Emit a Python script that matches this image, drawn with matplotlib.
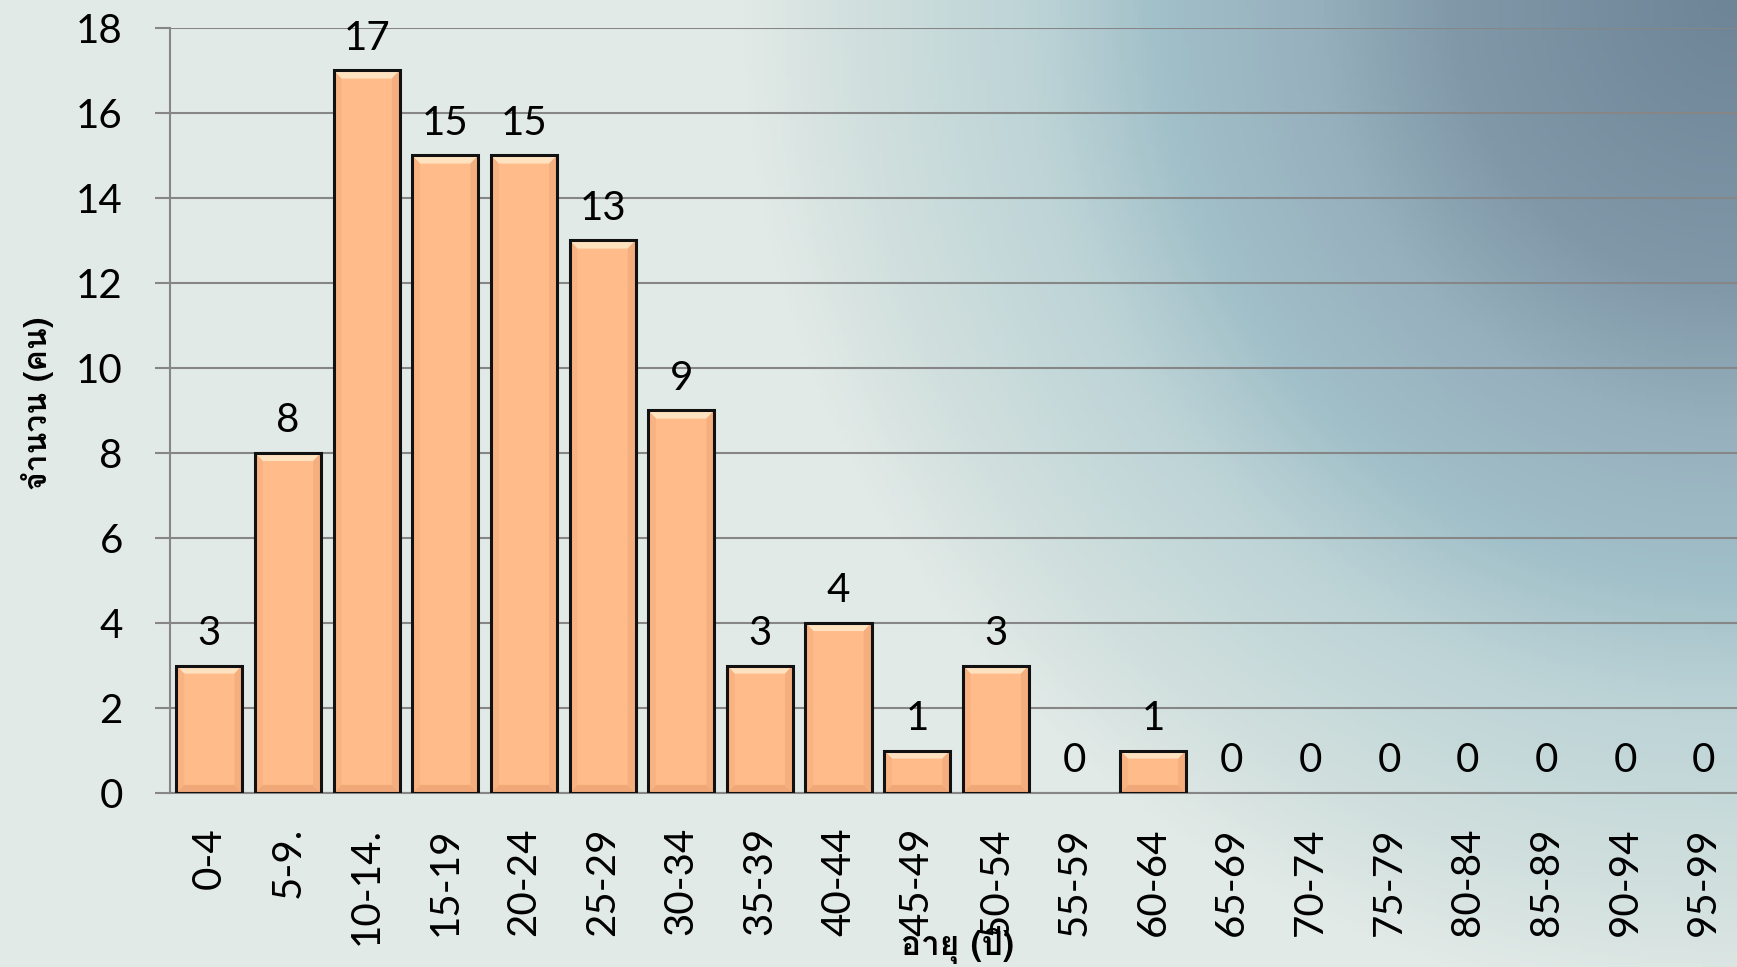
import numpy as np
import matplotlib
matplotlib.use('Agg')
import matplotlib.pyplot as plt
from matplotlib import font_manager
from matplotlib.ft2font import FT2Font
from matplotlib.colors import LinearSegmentedColormap
from matplotlib.patches import Polygon

# ข้อมูลช่วงอายุและจำนวน
age_groups = ['0-4', '5-9.', '10-14.', '15-19', '20-24', '25-29', '30-34', '35-39',
              '40-44', '45-49', '50-54', '55-59', '60-64', '65-69', '70-74', '75-79',
              '80-84', '85-89', '90-94', '95-99']
counts = [3, 8, 17, 15, 15, 13, 9, 3, 4, 1, 3, 0, 1, 0, 0, 0, 0, 0, 0, 0]
y_ticks = [0, 2, 4, 6, 8, 10, 12, 14, 16, 18]
x_title = 'อายุ (ปี)'
y_title = 'จำนวน (คน)'

# หาฟอนต์ที่มีอักษรไทย
thai_font = None
for f in font_manager.fontManager.ttflist:
    try:
        if 0x0E08 in FT2Font(f.fname).get_charmap():
            thai_font = f.name
            break
    except Exception:
        pass
thai_family = [thai_font, 'DejaVu Sans'] if thai_font else ['DejaVu Sans']

plt.rcParams['font.family'] = ['Lato', 'DejaVu Sans']

W, H = 1737, 967
fig = plt.figure(figsize=(W / 100, H / 100), dpi=100)

# พื้นหลังไล่สี
bg = fig.add_axes([0, 0, 1, 1], zorder=-10)
u = np.linspace(0, 1, 400)
v = np.linspace(0, 1, 240)
U, V = np.meshgrid(u, v)
d = np.sqrt(((1 - U) * 2.0) ** 2 + (V * 1.1) ** 2)
t = np.clip(1 - d / 1.15, 0, 1)
cmap = LinearSegmentedColormap.from_list('bg', [
    (0.0, '#e2eae7'), (0.1, '#d3e1df'), (0.3, '#bcd3d6'), (0.42, '#a2c0c9'),
    (0.58, '#96b0bd'), (0.72, '#8098a8'), (1.0, '#6e8497')])
bg.imshow(t, cmap=cmap, vmin=0, vmax=1, aspect='auto', extent=[0, 1, 1, 0])
bg.axis('off')

ax = fig.add_axes([170 / W, 1 - 793 / H, 1573 / W, (793 - 28) / H])
ax.set_facecolor('none')

x = np.arange(len(age_groups))
w = 0.84
grid_c = '#868686'
nz = [i for i, c in enumerate(counts) if c > 0]
x_nz = [x[i] for i in nz]
c_nz = [counts[i] for i in nz]

ax.bar(x_nz, c_nz, width=w, color='#ffbb8a', edgecolor='none', zorder=2)

# เอฟเฟกต์ขอบนูน
dx, dy = 0.1, 0.19
for xi, c in zip(x_nz, c_nz):
    xl, xr = xi - w / 2, xi + w / 2
    ax.add_patch(Polygon([(xl, c), (xr, c), (xr - dx, c - dy), (xl + dx, c - dy)],
                         closed=True, facecolor='#ffe2c0', edgecolor='none', zorder=2.5))
    ax.add_patch(Polygon([(xl, 0), (xr, 0), (xr - dx, dy), (xl + dx, dy)],
                         closed=True, facecolor='#f0a878', edgecolor='none', zorder=2.5))
    ax.add_patch(Polygon([(xl, 0), (xl + dx, dy), (xl + dx, c - dy), (xl, c)],
                         closed=True, facecolor='#f9b382', edgecolor='none', zorder=2.5))
    ax.add_patch(Polygon([(xr, 0), (xr - dx, dy), (xr - dx, c - dy), (xr, c)],
                         closed=True, facecolor='#f5ae7e', edgecolor='none', zorder=2.5))

ax.bar(x_nz, c_nz, width=w, fill=False, edgecolor='#111111', linewidth=2.2, zorder=3)

for xi, c in zip(x, counts):
    ax.annotate(str(c), (xi, c), xytext=(0, 10), textcoords='offset points',
                ha='center', va='bottom', fontsize=29, color='black')

ax.set_xlim(-0.5, len(age_groups) - 0.5)
ax.set_ylim(0, 18)
ax.set_yticks(y_ticks)
ax.set_xticks(x)
ax.set_xticklabels(age_groups, rotation=90)
ax.tick_params(axis='x', length=0, pad=24.5, labelsize=29)
ax.tick_params(axis='y', length=11, width=1.5, color=grid_c, pad=23, labelsize=29, direction='out')
ax.grid(axis='y', color=grid_c, linewidth=1.5, zorder=0)
ax.set_axisbelow(True)
for s in ['top', 'right']:
    ax.spines[s].set_visible(False)
for s in ['left', 'bottom']:
    ax.spines[s].set_color(grid_c)
    ax.spines[s].set_linewidth(1.5)

fig.text(958 / W, 1 - 945 / H, x_title, ha='center', va='center', fontsize=24,
         fontweight='bold', family=thai_family)
fig.text(38 / W, 1 - 403 / H, y_title, ha='center', va='center', rotation=90,
         fontsize=23, fontweight='bold', family=thai_family)

fig.savefig('out.png', dpi=100)
